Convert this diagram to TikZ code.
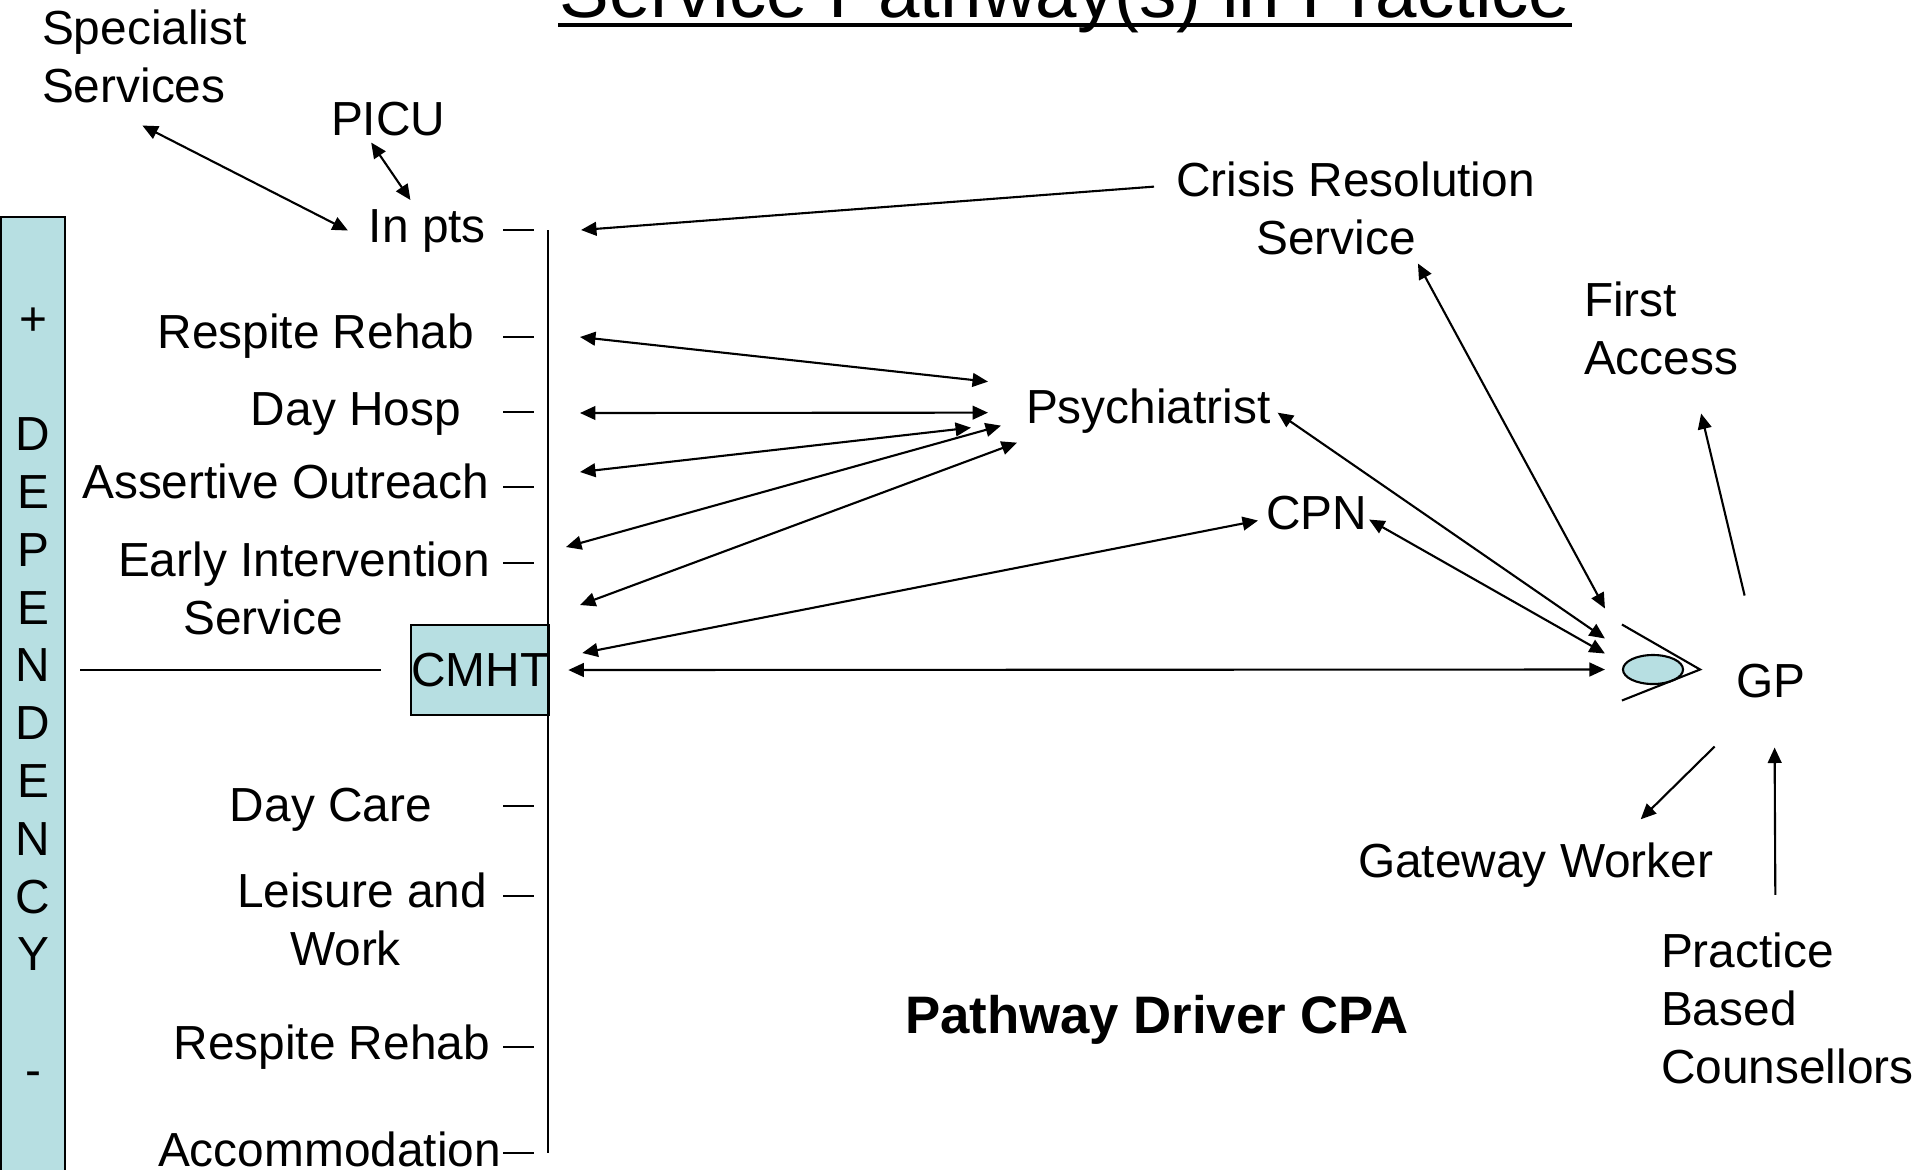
\documentclass[tikz,border=0pt]{standalone}
\usepackage{fontspec}
\setmainfont{Liberation Sans}
\usepackage{tikz}
\usetikzlibrary{arrows.meta,shapes.geometric}
\definecolor{paleblue}{RGB}{183,223,226}
\newcommand{\slidefont}{\fontsize{13.6}{16.4}\selectfont}
\newcommand{\barfont}{\fontsize{13.6}{16.44}\selectfont}
\newcommand{\titlefont}{\fontsize{21.2}{25}\selectfont}
\newcommand{\cpafont}{\fontsize{15}{18}\selectfont\bfseries}
\tikzset{
  lbl/.style={inner sep=0pt,align=left},
  bluebox/.style={draw,fill=paleblue,inner sep=0pt},
  tick/.style={line width=0.5pt}
}

\begin{document}
\begin{tikzpicture}[x=0.01cm,y=-0.01cm,line width=0.6pt,font=\slidefont,>={Triangle[length=4.4pt,width=3.9pt]}]
      \useasboundingbox (0,0) rectangle (1915,1169);
      \clip (0,0) rectangle (1915,1169);

      \node [lbl,anchor=base,font=\titlefont] (title) at (1065,17) {Service Pathway(s) in Practice};
      \node [lbl,anchor=base west] (spec) at (41,102) {Specialist\\Services};
      \node [lbl,anchor=base west] (picu) at (330,135) {PICU};
      \node [lbl,anchor=base east] (inpts) at (487,242) {In pts};
      \node [lbl,anchor=base east] (rr1) at (475,348) {Respite Rehab};
      \node [lbl,anchor=base east] (dh) at (462,425) {Day Hosp};
      \node [lbl,anchor=base east] (ao) at (490,498) {Assertive Outreach};
      \node [lbl,anchor=base west] (ei) at (117,634) {Early Intervention\\\hspace*{18.6pt}Service};
      \node [lbl,anchor=base east] (dc) at (433,821) {Day Care};
      \node [lbl,anchor=base west] (lw) at (236,965) {Leisure and\\\hspace*{15.1pt}Work};
      \node [lbl,anchor=base east] (rr2) at (491,1059) {Respite Rehab};
      \node [lbl,anchor=base east] (acc) at (502,1166) {Accommodation};
      \node [bluebox,align=center,font=\barfont,minimum width=0.64cm,minimum height=9.6cm] (dep) at (33,697)
        {+\\[16.44pt]D\\E\\P\\E\\N\\D\\E\\N\\C\\Y\\[16.44pt]-};
      \node [bluebox,minimum width=1.355cm,minimum height=0.907cm] (cmht) at (480.2,670) {CMHT};

      \node [lbl,anchor=base west] (crisis) at (1175,254) {Crisis Resolution\\\hspace*{22.8pt}Service};
      \node [lbl,anchor=base west] (first) at (1583,374) {First\\Access};
      \node [lbl,anchor=base west] (psych) at (1025,423) {Psychiatrist};
      \node [lbl,anchor=base west] (cpn) at (1265,529) {CPN};
      \node [bluebox,ellipse,minimum width=0.6cm,minimum height=0.29cm] (eye) at (1653,669.5) {};
      \node [lbl,anchor=base west] (gp) at (1735,697) {GP};
      \node [lbl,anchor=base west] (gw) at (1357,877) {Gateway Worker};
      \node [lbl,anchor=base west] (pbc) at (1660,1083) {Practice\\Based\\Counsellors};
      \node [lbl,anchor=base west,font=\cpafont] (cpa) at (904,1033) {Pathway Driver CPA};

      \coordinate (bustop) at (548,230);
      \coordinate (busbot) at (548,1153);
      \coordinate (ip-in) at (581,230);
      \coordinate (rr-in) at (580,337);
      \coordinate (dh-in) at (580,413);
      \coordinate (ao-in) at (580,472);
      \coordinate (ei-in) at (566,547);
      \coordinate (eis-in) at (580,605);

      \draw[line width=1.1pt] ([shift={(0,8)}]title.base west) -- ([shift={(0,8)}]title.base east);
      \draw (bustop) -- (busbot);
      \draw[tick] (503,230) -- (534,230) (503,337) -- (534,337) (503,412) -- (534,412)
        (503,487) -- (534,487) (503,563) -- (534,563) (503,806) -- (534,806)
        (503,896) -- (534,896) (503,1047) -- (534,1047) (503,1153) -- (534,1153);
      \draw ([shift={(14,-27)}]dep.east) -- ([shift={(-29,0)}]cmht.west);

      \draw[<->] ([shift={(-2,22)}]spec.south) -- ([shift={(-20,0)}]inpts.west);
      \draw[<->] ([shift={(-17,6)}]picu.south) -- ([shift={(-17,-8)}]inpts.north);
      \draw[->] ([shift={(-21,26)}]crisis.north west) -- (ip-in);
      \draw[<->] (rr-in) -- ([shift={(-37,-29)}]psych.west);
      \draw[<->] (dh-in) -- ([shift={(-37,2)}]psych.west);
      \draw[<->] (ao-in) -- ([shift={(-54,17)}]psych.west);
      \draw[<->] (ei-in) -- ([shift={(-24,15)}]psych.west);
      \draw[<->] (eis-in) -- ([shift={(-8,32)}]psych.west);
      \draw[<->] ([shift={(32,-17)}]cmht.east) -- ([shift={(-7,8)}]cpn.west);
      \draw[<->] ([shift={(18,0)}]cmht.east) -- ([shift={(-17,0)}]eye.west);
      \draw[<->] ([shift={(6,2)}]psych.east) -- ([shift={(-17,-31)}]eye.west);
      \draw[<->] ([shift={(1,7)}]cpn.east) -- ([shift={(-17,-16)}]eye.west);
      \draw[<->] ([shift={(-118,8)}]crisis.south east) -- ([shift={(-17,-61)}]eye.west);
      \draw ([shift={(0,-45)}]eye.west) -- ([shift={(16,0)}]eye.east) -- ([shift={(0,31)}]eye.west);
      \draw[->] ([shift={(-26,-67)}]gp.north) -- ([shift={(40,38)}]first.south);
      \draw[->] ([shift={(-56,48)}]gp.south) -- ([shift={(105,-22)}]gw.north);
      \draw[->] ([shift={(-12,-37)}]pbc.north) -- ([shift={(4,49)}]gp.south);
    \end{tikzpicture}
\end{document}
